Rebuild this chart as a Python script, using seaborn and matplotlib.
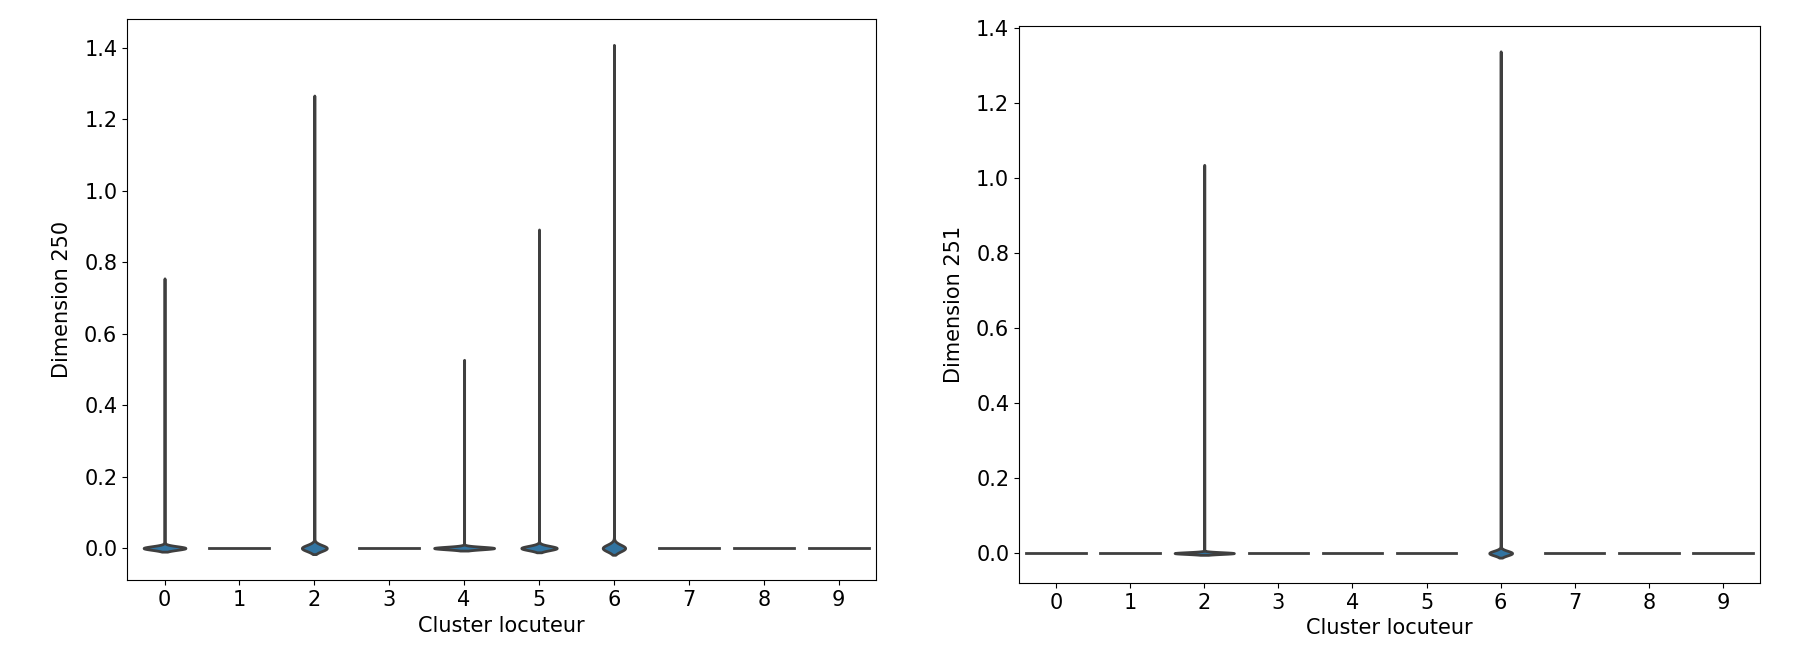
import numpy as np
import pandas as pd
import matplotlib
matplotlib.use("Agg")
import matplotlib.pyplot as plt
import seaborn as sns

clusters = [0, 1, 2, 3, 4, 5, 6, 7, 8, 9]
# number of (near-)zero observations per cluster
dim250_zeros = [1250, 300, 1250, 300, 1250, 1250, 1250, 300, 300, 300]
dim251_zeros = [300, 300, 6000, 300, 300, 300, 2200, 300, 300, 300]
# largest value observed per cluster (0 = constant cluster)
dim250_peak = [0.745, 0.0, 1.25, 0.0, 0.52, 0.88, 1.39, 0.0, 0.0, 0.0]
dim251_peak = [0.0, 0.0, 1.03, 0.0, 0.0, 0.0, 1.325, 0.0, 0.0, 0.0]


def build(zeros, peaks, name):
    rows = []
    for c, nz, pk in zip(clusters, zeros, peaks):
        vals = [0.0] * nz
        if pk > 0:
            vals.append(pk)
        rows.append(pd.DataFrame({"Cluster locuteur": c, name: vals}))
    return pd.concat(rows, ignore_index=True)


df250 = build(dim250_zeros, dim250_peak, "Dimension 250")
df251 = build(dim251_zeros, dim251_peak, "Dimension 251")

plt.rcParams["font.size"] = 15
fig = plt.figure(figsize=(18, 6.67), dpi=100)
ax1 = fig.add_axes([0.0706, 0.130, 0.4161, 0.841])
ax2 = fig.add_axes([0.5661, 0.126, 0.4117, 0.835])

sns.violinplot(data=df250, x="Cluster locuteur", y="Dimension 250", ax=ax1,
               linewidth=2, inner=None, gridsize=2000)
sns.violinplot(data=df251, x="Cluster locuteur", y="Dimension 251", ax=ax2,
               linewidth=2, inner=None, gridsize=2000)

for ax in (ax1, ax2):
    ax.tick_params(labelsize=15)
    ax.xaxis.label.set_size(15)
    ax.yaxis.label.set_size(15)
    ax.yaxis.labelpad = 9

fig.savefig("out.png", dpi=100)
